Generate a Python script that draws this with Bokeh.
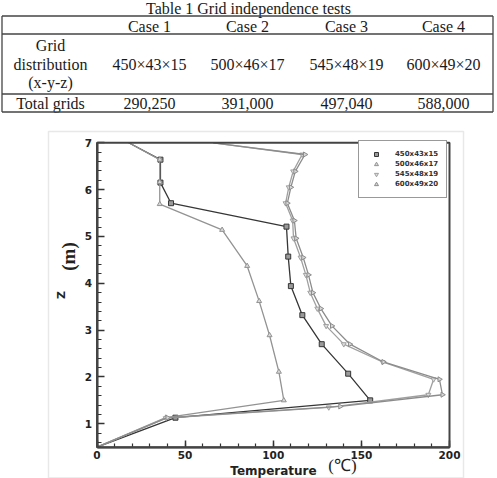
import math
from bokeh.plotting import figure
from bokeh.models import (Range1d, FixedTicker, Legend, LegendItem, Label, ColumnDataSource,
                          LinearAxis, BoxAnnotation)
from bokeh.core.properties import value
from bokeh.embed import file_html
from bokeh.resources import INLINE

# ---------------- data ----------------
table_title = "Table 1 Grid independence tests"
case_names = ["Case 1", "Case 2", "Case 3", "Case 4"]
grid_row_label = ["Grid", "distribution", "(x-y-z)"]
grid_sizes = ["450×43×15", "500×46×17", "545×48×19", "600×49×20"]
total_label = "Total grids"
total_grids = ["290,250", "391,000", "497,040", "588,000"]

series_names = ["450x43x15", "500x46x17", "545x48x19", "600x49x20"]

s1_temp = [0, 44.5, 155, 142.5, 127.5, 116.5, 110, 108.5, 107.5, 42, 36, 36, 18]
s1_z = [0.5, 1.13, 1.5, 2.07, 2.7, 3.32, 3.94, 4.57, 5.21, 5.71, 6.15, 6.64, 7.0]

s2_temp = [0, 39, 106, 103.2, 97.9, 92, 85.2, 71, 35.6, 35.6, 35.6, 18]
s2_z = [0.5, 1.13, 1.5, 2.11, 2.89, 3.62, 4.37, 5.14, 5.69, 6.16, 6.64, 7.0]

s3_temp = [0, 39, 131.5, 188, 191, 162, 140, 130, 125, 121, 118.5, 115.5, 111.5, 111, 107, 108.8, 111.3, 116.4, 66]
s3_z = [0.5, 1.12, 1.35, 1.62, 1.95, 2.32, 2.7, 3.09, 3.46, 3.8, 4.18, 4.55, 4.96, 5.34, 5.71, 6.05, 6.39, 6.75, 7.0]

s4_temp = [0, 40, 138, 196, 194.3, 162.5, 143.5, 133.3, 127, 122.5, 120, 117, 113, 112, 108, 110, 112.5, 118, 66]
s4_z = [0.5, 1.13, 1.37, 1.62, 1.95, 2.32, 2.7, 3.09, 3.46, 3.8, 4.18, 4.55, 4.96, 5.34, 5.71, 6.05, 6.39, 6.75, 7.0]

x_ticks = [0, 50, 100, 150, 200]
y_ticks = [1, 2, 3, 4, 5, 6, 7]
T_MIN, T_MAX = 0, 200
Z_MIN, Z_MAX = 0.5, 7

# ---------------- layout geometry (pixels) ----------------
W, H = 497, 478
FR_L, FR_R, FR_T, FR_B = 96.5, 449.0, 142.3, 446.7   # chart box on the page
sx = (FR_R - FR_L) / (T_MAX - T_MIN)
sy = (FR_B - FR_T) / (Z_MAX - Z_MIN)
x_start = T_MIN - FR_L / sx
x_end = T_MIN + (W - FR_L) / sx
y_end = Z_MAX + FR_T / sy
y_start = Z_MAX - (H - FR_T) / sy

def X(px):
    return T_MIN + (px - FR_L) / sx

def Y(py):
    return Z_MAX - (py - FR_T) / sy

SERIF = "Liberation Serif"
SANS = "DejaVu Sans"

p = figure(width=W, height=H, x_range=Range1d(x_start, x_end), y_range=Range1d(y_start, y_end),
           toolbar_location=None, output_backend="svg",
           x_axis_location=None, y_axis_location=None, min_border=0)
p.grid.visible = False
p.outline_line_color = None
p.background_fill_color = "white"
p.border_fill_color = "white"

# faint edge of the figure image
p.quad(left=[X(48)], right=[X(463)], bottom=[Y(477.5)], top=[Y(131)],
       fill_alpha=0, line_color="#e8e8e8", line_width=1.5)

# ---------------- table ----------------
col_x = [50, 149, 247, 346, 443]
txt_x, txt_y, txt = [], [], []
txt_x.append(248); txt_y.append(8); txt.append(table_title)
for i, c in enumerate(case_names):
    txt_x.append(col_x[i + 1]); txt_y.append(25.5); txt.append(c)
for j, s in enumerate(grid_row_label):
    txt_x.append(col_x[0]); txt_y.append(45 + 18.5 * j); txt.append(s)
for i, g in enumerate(grid_sizes):
    txt_x.append(col_x[i + 1]); txt_y.append(63.5); txt.append(g)
txt_x.append(col_x[0]); txt_y.append(103); txt.append(total_label)
for i, g in enumerate(total_grids):
    txt_x.append(col_x[i + 1]); txt_y.append(103); txt.append(g)

p.text(x=[X(v) for v in txt_x], y=[Y(v) for v in txt_y], text=txt,
       text_font=value(SERIF), text_font_size="16px",
       text_align="center", text_baseline="middle", text_color="#1a1a1a")

hl_y = [15.5, 33.5, 93.5, 111.5]
p.segment(x0=[X(1.5)] * 4, x1=[X(492.5)] * 4, y0=[Y(v) for v in hl_y], y1=[Y(v) for v in hl_y],
          line_color="#444444", line_width=1.3)
p.segment(x0=[X(1.5), X(492.5)], x1=[X(1.5), X(492.5)], y0=[Y(15.5)] * 2, y1=[Y(111.5)] * 2,
          line_color="#444444", line_width=1.3)

# ---------------- chart ----------------
p.add_layout(BoxAnnotation(left=T_MIN, right=T_MAX, bottom=Z_MIN, top=Z_MAX,
                           fill_alpha=0, line_color="#444444", line_width=2, line_alpha=1))

series = [
    (s1_temp, s1_z, "#363636", "square", 0.0, "#9a9a9a"),
    (s2_temp, s2_z, "#939393", "triangle", 0.0, "#d8d8d8"),
    (s3_temp, s3_z, "#a0a0a0", "inverted_triangle", 0.0, "#dddddd"),
    (s4_temp, s4_z, "#8c8c8c", "triangle", -math.pi / 2, "#d8d8d8"),
]
items = []
for (tx, tz, col, mk, ang, fill), name in zip(series, series_names):
    src = ColumnDataSource(dict(t=tx, z=tz))
    p.line("t", "z", source=src, line_color=col, line_width=1.3)
    # markers only on the interior points (the ends lie on the plot edges)
    msrc = ColumnDataSource(dict(t=tx[1:-1], z=tz[1:-1]))
    r = p.scatter("t", "z", source=msrc, marker=mk, angle=ang, size=5,
                  line_color=col, fill_color=fill, line_width=1)
    items.append(LegendItem(label=name, renderers=[r]))

xaxis = LinearAxis(fixed_location=Z_MIN, bounds=(T_MIN, T_MAX),
                   ticker=FixedTicker(ticks=x_ticks, minor_ticks=[10 * i for i in range(21)]),
                   axis_label="Temperature")
yaxis = LinearAxis(fixed_location=T_MIN, bounds=(Z_MIN, Z_MAX),
                   ticker=FixedTicker(ticks=y_ticks, minor_ticks=[round(0.6 + 0.2 * i, 1) for i in range(33)]),
                   axis_label="Z")
for ax in (xaxis, yaxis):
    ax.axis_line_color = "#333333"
    ax.axis_line_width = 2
    ax.major_tick_line_color = "#333333"
    ax.minor_tick_line_color = "#333333"
    ax.major_tick_line_width = 1.5
    ax.minor_tick_line_width = 1.2
    ax.major_tick_in = 7
    ax.major_tick_out = 0
    ax.minor_tick_in = 4
    ax.minor_tick_out = 0
    ax.major_label_text_font = SANS
    ax.major_label_text_font_style = "bold"
    ax.major_label_text_font_size = "10.5px"
    ax.major_label_text_color = "#222222"
    ax.axis_label_text_font = SANS
    ax.axis_label_text_font_style = "bold"
    ax.axis_label_text_color = "#222222"
xaxis.axis_label_text_font_size = "12px"
xaxis.major_label_standoff = 4
xaxis.axis_label_standoff = 1
yaxis.axis_label_text_font_size = "11px"
yaxis.major_label_standoff = 5
yaxis.axis_label_standoff = 14
p.add_layout(xaxis, "below")
p.add_layout(yaxis, "left")

legend = Legend(items=items, location=(358, 280))
legend.margin = 0
legend.padding = 8
legend.spacing = 0
legend.glyph_width = 18
legend.glyph_height = 10
legend.label_height = 10
legend.label_standoff = 10
legend.label_text_font = SANS
legend.label_text_font_style = "bold"
legend.label_text_font_size = "7px"
legend.label_text_color = "#333333"
legend.border_line_color = "#333333"
legend.border_line_width = 1.5
legend.background_fill_color = "white"
legend.background_fill_alpha = 1
p.add_layout(legend)

p.add_layout(Label(x=X(68), y=Y(256), text="(m)", angle=math.pi / 2,
                   text_font=SERIF, text_font_style="bold", text_font_size="19px",
                   text_align="center", text_baseline="middle", text_color="#222222"))
p.add_layout(Label(x=X(342), y=Y(465), text="(℃)",
                   text_font=SERIF, text_font_size="17px",
                   text_align="center", text_baseline="middle", text_color="#222222"))

open("out.html", "w").write(file_html(p, INLINE))
